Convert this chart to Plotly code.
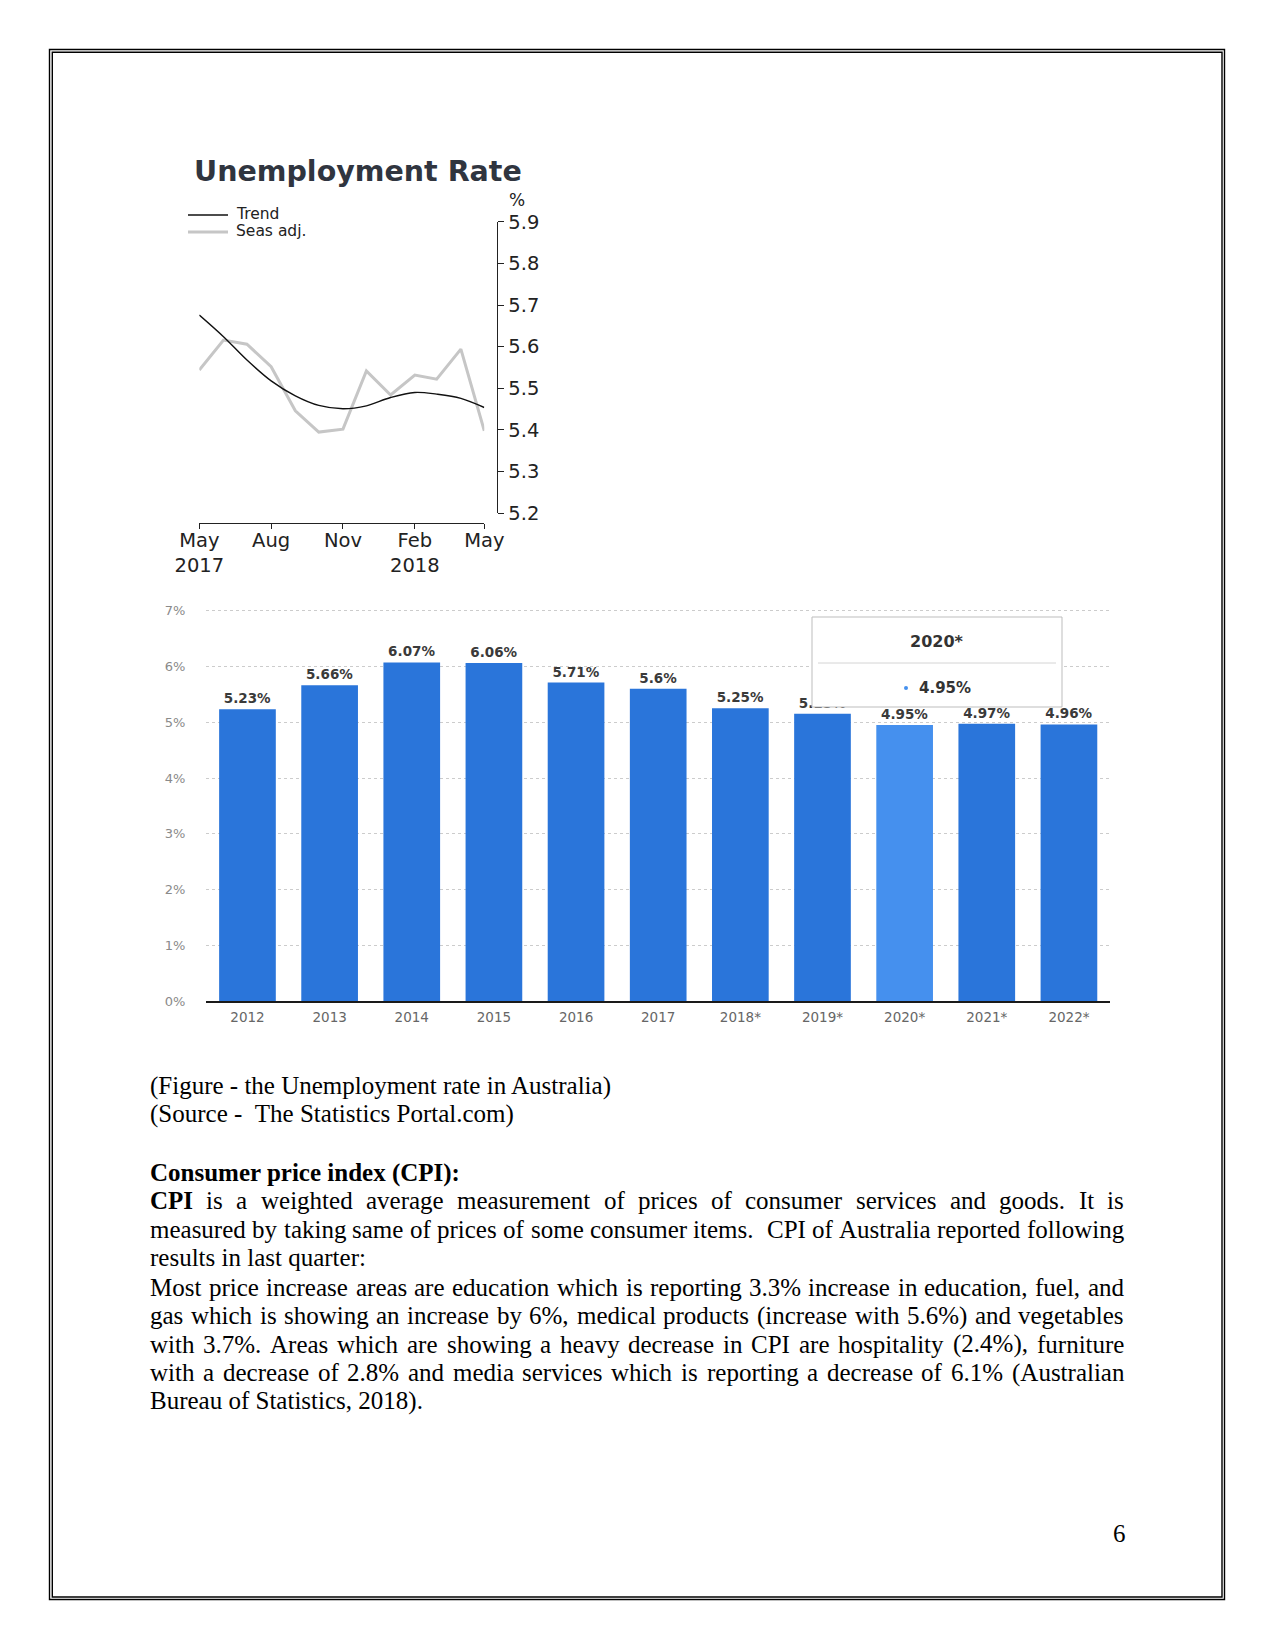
import plotly.graph_objects as go

W, H = 1275, 1651

# ---------------- Data: Unemployment Rate line chart ----------------
ur_months = ["2017-05-01", "2017-06-01", "2017-07-01", "2017-08-01", "2017-09-01",
             "2017-10-01", "2017-11-01", "2017-12-01", "2018-01-01", "2018-02-01",
             "2018-03-01", "2018-04-01", "2018-05-01"]
ur_trend = [5.676, 5.624, 5.568, 5.518, 5.482, 5.459, 5.451, 5.458, 5.478, 5.490, 5.486, 5.476, 5.454]
ur_seas = [5.544, 5.616, 5.606, 5.552, 5.446, 5.395, 5.402, 5.542, 5.484, 5.532, 5.522, 5.594, 5.398]
ur_tickvals = ["2017-05-01", "2017-08-01", "2017-11-01", "2018-02-01", "2018-05-01"]
ur_ticktext = ["May<br>2017", "Aug", "Nov", "Feb<br>2018", "May"]
ur_yticks = [5.2, 5.3, 5.4, 5.5, 5.6, 5.7, 5.8, 5.9]
ur_title = "Unemployment Rate"
ur_legend = ["Trend", "Seas adj."]

# ---------------- Data: yearly bar chart ----------------
years = ["2012", "2013", "2014", "2015", "2016", "2017", "2018*", "2019*", "2020*", "2021*", "2022*"]
rates = [5.23, 5.66, 6.07, 6.06, 5.71, 5.6, 5.25, 5.15, 4.95, 4.97, 4.96]
rate_labels = ["5.23%", "5.66%", "6.07%", "6.06%", "5.71%", "5.6%", "5.25%", "5.15%", "4.95%", "4.97%", "4.96%"]
highlight_year = "2020*"
highlight_value = "4.95%"
bar_yticks = [0, 1, 2, 3, 4, 5, 6, 7]
bar_yticklabels = ["0%", "1%", "2%", "3%", "4%", "5%", "6%", "7%"]

# ---------------- Page text ----------------
caption_lines = ["(Figure - the Unemployment rate in Australia)",
                 "(Source - \u00a0The Statistics Portal.com)"]
heading = "Consumer price index (CPI):"
para_lines = [
    "CPI is a weighted average measurement of prices of consumer services and goods. It is",
    "measured by taking same of prices of some consumer items.  CPI of Australia reported following",
    "results in last quarter:",
    "Most price increase areas are education which is reporting 3.3% increase in education, fuel, and",
    "gas which is showing an increase by 6%, medical products (increase with 5.6%) and vegetables",
    "with 3.7%. Areas which are showing a heavy decrease in CPI are hospitality (2.4%), furniture",
    "with a decrease of 2.8% and media services which is reporting a decrease of 6.1% (Australian",
    "Bureau of Statistics, 2018).",
]
para_justified = [True, True, False, True, True, True, True, False]
page_number = "6"

# ---------------- helpers ----------------
def px(x):
    return x / W


def py(y):
    return 1 - y / H


BASE_BLUE = "#2a75da"
HL_BLUE = "#4590ee"
SANS = "DejaVu Sans"
SERIF = "Liberation Serif"

TIMES_R = {' ': 250, '!': 333, '%': 833, '(': 333, ')': 333, ',': 250, '-': 333, '.': 250,
           ':': 278, '\u00a0': 250}
for d in "0123456789":
    TIMES_R[d] = 500
TIMES_R.update({'A': 722, 'B': 667, 'C': 667, 'D': 722, 'E': 611, 'F': 556, 'G': 722, 'H': 722,
                'I': 333, 'J': 389, 'K': 722, 'L': 611, 'M': 889, 'N': 722, 'O': 722, 'P': 556,
                'Q': 722, 'R': 667, 'S': 556, 'T': 611, 'U': 722, 'V': 722, 'W': 944, 'X': 722,
                'Y': 722, 'Z': 611,
                'a': 444, 'b': 500, 'c': 444, 'd': 500, 'e': 444, 'f': 333, 'g': 500, 'h': 500,
                'i': 278, 'j': 278, 'k': 500, 'l': 278, 'm': 778, 'n': 500, 'o': 500, 'p': 500,
                'q': 500, 'r': 333, 's': 389, 't': 278, 'u': 500, 'v': 500, 'w': 722, 'x': 500,
                'y': 500, 'z': 444})
TIMES_B = {'C': 722, 'P': 611, 'I': 389}
FS = 25
LEFT, RIGHT = 150.0, 1124.0


def word_w(word, bold=False):
    tbl = TIMES_B if bold else TIMES_R
    return sum(tbl.get(c, TIMES_R.get(c, 500)) for c in word) * FS / 1000.0


annotations = []
shapes = []


def text_ann(text, x, y, size, color="#000", family=SANS, xanchor="left", weight=None):
    f = dict(family=family, size=size, color=color)
    if weight:
        f["weight"] = weight
    annotations.append(dict(text=text, x=px(x), y=py(y), xref="paper", yref="paper",
                            showarrow=False, xanchor=xanchor, yanchor="middle",
                            borderpad=0, borderwidth=0, font=f))


# ---------------- traces ----------------
fig = go.Figure()
fig.add_trace(go.Scatter(x=ur_months, y=ur_seas, mode="lines", name=ur_legend[1],
                         line=dict(color="#c6c6c6", width=3), xaxis="x", yaxis="y",
                         showlegend=False))
fig.add_trace(go.Scatter(x=ur_months, y=ur_trend, mode="lines", name=ur_legend[0],
                         line=dict(color="#111111", width=1.4, shape="spline", smoothing=1.0),
                         xaxis="x", yaxis="y", showlegend=False))

bar_colors = [HL_BLUE if y == highlight_year else BASE_BLUE for y in years]
fig.add_trace(go.Bar(x=years, y=rates, text=rate_labels,
                     marker=dict(color=bar_colors, line=dict(width=0)),
                     width=0.69, texttemplate="%{text}", textposition="outside",
                     constraintext="none", cliponaxis=False,
                     textfont=dict(family=SANS, size=13.5, color="#3a3a3a", weight="bold"),
                     xaxis="x2", yaxis="y2", showlegend=False, hoverinfo="skip"))

# ---------------- line chart decorations ----------------
text_ann(ur_title, 357.5, 171, 28.5, color="#30353f", weight="bold", xanchor="center")
text_ann("%", 517, 200, 17, color="#222", xanchor="center")
# legend keys
shapes.append(dict(type="line", xref="paper", yref="paper", x0=px(188), x1=px(228),
                   y0=py(215), y1=py(215), line=dict(color="#111111", width=1.4)))
shapes.append(dict(type="line", xref="paper", yref="paper", x0=px(188), x1=px(228),
                   y0=py(232), y1=py(232), line=dict(color="#c6c6c6", width=3)))
text_ann(ur_legend[0], 236, 214, 15.5, color="#222")
text_ann(ur_legend[1], 236, 231, 15.5, color="#222")

# ---------------- tooltip on bar chart ----------------
shapes.append(dict(type="rect", xref="paper", yref="paper", layer="above",
                   x0=px(812), x1=px(1062), y0=py(617), y1=py(707),
                   fillcolor="white", line=dict(color="#bdbdbd", width=1)))
shapes.append(dict(type="line", xref="paper", yref="paper", layer="above",
                   x0=px(818), x1=px(1056), y0=py(663), y1=py(663),
                   line=dict(color="#d4d4d4", width=1)))
shapes.append(dict(type="circle", xref="paper", yref="paper", layer="above",
                   x0=px(904), x1=px(908), y0=py(690), y1=py(686),
                   fillcolor=HL_BLUE, line=dict(width=0)))
text_ann(highlight_year, 937, 641, 16, color="#333", weight="bold", xanchor="center")
text_ann(highlight_value, 919, 688, 15, color="#333", weight="bold")

# ---------------- page border ----------------
shapes.append(dict(type="rect", xref="paper", yref="paper", x0=px(49.5), x1=px(1224.5),
                   y0=py(1599.5), y1=py(49.5), line=dict(color="#000", width=1.4)))
shapes.append(dict(type="rect", xref="paper", yref="paper", x0=px(52.3), x1=px(1222),
                   y0=py(1597), y1=py(52.3), line=dict(color="#000", width=1.4)))

# ---------------- page text ----------------
YOFF = -2.5
text_ann(caption_lines[0], LEFT, 1088.3 + YOFF, FS, family=SERIF)
text_ann(caption_lines[1], LEFT, 1116.7 + YOFF, FS, family=SERIF)
text_ann(heading, LEFT, 1175 + YOFF, FS, family=SERIF, weight="bold")

line_y = [1203.3, 1231.7, 1260, 1289.5, 1318, 1346.7, 1375.2, 1403.5]
for i, (line, just) in enumerate(zip(para_lines, para_justified)):
    yy = line_y[i] + YOFF
    words = line.split(" ")
    bold_flags = [(i == 0 and k == 0) for k in range(len(words))]
    if not just:
        text_ann(line, LEFT, yy, FS, family=SERIF)
        continue
    widths = [word_w(w_, b_) for w_, b_ in zip(words, bold_flags)]
    gap = (RIGHT - LEFT - sum(widths)) / (len(words) - 1)
    x = LEFT
    for w_, b_, wd in zip(words, bold_flags, widths):
        if w_:
            text_ann(w_, x, yy, FS, family=SERIF, weight="bold" if b_ else None)
        x += wd + gap

text_ann(page_number, 1119, 1533, FS, family=SERIF, xanchor="center")

# ---------------- layout ----------------
fig.update_layout(
    width=W, height=H, autosize=False,
    margin=dict(l=0, r=0, t=0, b=0, pad=0, autoexpand=False),
    paper_bgcolor="white", plot_bgcolor="rgba(0,0,0,0)",
    showlegend=False, bargap=0.31,
    xaxis=dict(domain=[px(199.3), px(484.3)], type="date", automargin=False,
               range=[ur_months[0], ur_months[-1]],
               anchor="free", position=py(523.3),
               tickvals=ur_tickvals, ticktext=ur_ticktext,
               ticks="outside", ticklen=5, tickwidth=1.3, tickcolor="#222",
               ticklabelstandoff=-6,
               showline=True, linecolor="#222", linewidth=1.3,
               showgrid=False, zeroline=False,
               tickfont=dict(family=SANS, size=19.5, color="#222")),
    yaxis=dict(domain=[py(513.3), py(221.7)], range=[5.2, 5.9], automargin=False,
               anchor="free", position=px(497.3), side="right",
               tickvals=ur_yticks, tickformat=".1f",
               ticks="outside", ticklen=6, tickwidth=1.3, tickcolor="#222",
               showline=True, linecolor="#222", linewidth=1.3,
               showgrid=False, zeroline=False,
               tickfont=dict(family=SANS, size=19.5, color="#222")),
    xaxis2=dict(domain=[px(206.4), px(1110)], anchor="y2", type="category", automargin=False,
                range=[-0.5, 10.5], showline=True, linecolor="#1a1a1a", linewidth=1.5,
                ticks="", showgrid=False, zeroline=False, ticklabelstandoff=3,
                tickfont=dict(family=SANS, size=13.5, color="#666")),
    yaxis2=dict(domain=[py(1001.3), py(609.4)], anchor="x2", range=[0, 7.02], automargin=False,
                tickvals=bar_yticks, ticktext=bar_yticklabels,
                showline=False, zeroline=False,
                showgrid=True, gridcolor="#cccccc", griddash="dot", gridwidth=1,
                ticks="", ticklabelstandoff=20,
                tickfont=dict(family=SANS, size=13, color="#8a8a8a")),
    annotations=annotations, shapes=shapes,
)

fig.write_html("out.html")
